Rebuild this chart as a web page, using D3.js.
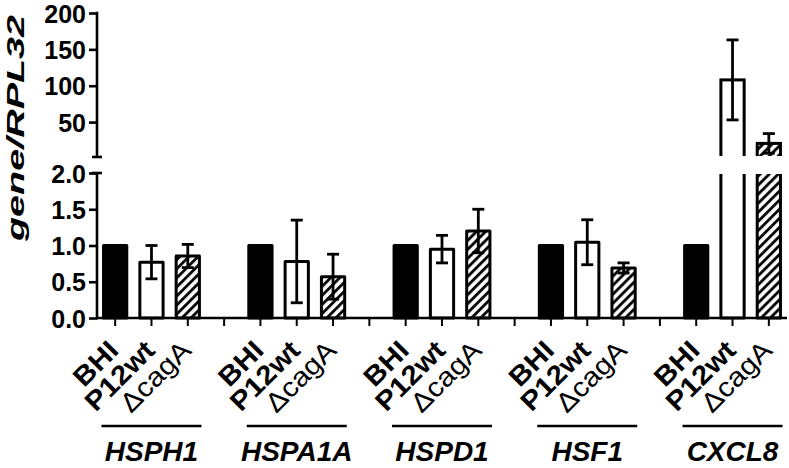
<!DOCTYPE html>
<html>
<head>
<meta charset="utf-8">
<script src="https://cdn.jsdelivr.net/npm/d3@7"></script>
<style>
  html, body { margin: 0; padding: 0; background: #fff; }
  svg { display: block; }
  text { font-family: "Liberation Sans", Arial, Helvetica, sans-serif; fill: #000; }
</style>
</head>
<body>
<svg id="chart" width="789" height="468"></svg>
<script>
// ---------------- data ----------------
const genes = ["HSPH1", "HSPA1A", "HSPD1", "HSF1", "CXCL8"];
const conditions = ["BHI", "P12wt", "ΔcagA"];
const bhiValues = [1, 1, 1, 1, 1];
const p12Values = [0.77, 0.78, 0.95, 1.045, 108];
const p12Errors = [0.23, 0.57, 0.19, 0.31, 55];
const cagValues = [0.855, 0.57, 1.2, 0.69, 20.7];
const cagErrors = [0.16, 0.31, 0.30, 0.07, 13.5];
const lowerTicks = [0, 0.5, 1.0, 1.5, 2.0];
const upperTicks = [50, 100, 150, 200];
const yTitleGene = "gene/";
const yTitleRef = "RPL32";

// ---------------- layout ----------------
const svg = d3.select("#chart");
const W = 789, H = 468;
const axisX = 97, axisRight = 787;
const baseY = 318;

const slots = [];
genes.forEach((g, gi) => {
  conditions.forEach(c => slots.push(g + "|" + c));
  if (gi < genes.length - 1) slots.push(g + "|gap");
});

const x = d3.scaleBand().domain(slots).range([axisX, axisRight])
  .paddingInner(0.36).paddingOuter(0.18);
const xc = s => x(s) + x.bandwidth() / 2;

const yLow = d3.scaleLinear().domain([0, 2]).range([baseY, 173]);
const yUp = d3.scaleLinear().domain([2, 200]).range([157, 13]);

// records
const bars = [];
genes.forEach((g, i) => {
  bars.push({gene: g, cond: "BHI", v: bhiValues[i], e: 0, style: "black"});
  bars.push({gene: g, cond: "P12wt", v: p12Values[i], e: p12Errors[i], style: "white"});
  bars.push({gene: g, cond: "ΔcagA", v: cagValues[i], e: cagErrors[i], style: "hatch"});
});

// defs
const defs = svg.append("defs");
const pat = defs.append("pattern").attr("id", "hatch")
  .attr("patternUnits", "userSpaceOnUse")
  .attr("width", 6.4).attr("height", 20)
  .attr("patternTransform", "rotate(45)");
pat.append("rect").attr("width", 6.4).attr("height", 20).attr("fill", "#fff");
pat.append("line").attr("x1", 1.5).attr("x2", 1.5).attr("y1", 0).attr("y2", 20)
  .attr("stroke", "#000").attr("stroke-width", 2.8);

defs.append("clipPath").attr("id", "clipLow")
  .append("rect").attr("x", 0).attr("y", 174).attr("width", W).attr("height", H - 174);
defs.append("clipPath").attr("id", "clipUp")
  .append("rect").attr("x", 0).attr("y", 0).attr("width", W).attr("height", 156);

const fillOf = d => d.style === "black" ? "#000" : d.style === "white" ? "#fff" : "url(#hatch)";
const bw = x.bandwidth();

// lower segment bars
const gLow = svg.append("g").attr("clip-path", "url(#clipLow)");
gLow.selectAll("rect").data(bars).join("rect")
  .attr("x", d => x(d.gene + "|" + d.cond))
  .attr("width", bw)
  .attr("y", d => yLow(Math.min(d.v, 2.3)))
  .attr("height", d => baseY - yLow(Math.min(d.v, 2.3)))
  .attr("fill", fillOf)
  .attr("stroke", "#000").attr("stroke-width", 3)
  .attr("stroke-linejoin", "round");

// upper segment bars
const bigBars = bars.filter(d => d.v > 2);
const gUp = svg.append("g").attr("clip-path", "url(#clipUp)");
gUp.selectAll("rect").data(bigBars).join("rect")
  .attr("x", d => x(d.gene + "|" + d.cond))
  .attr("width", bw)
  .attr("y", d => yUp(d.v))
  .attr("height", d => yUp(0) - yUp(d.v))
  .attr("fill", fillOf)
  .attr("stroke", "#000").attr("stroke-width", 3);

// error bars
const capW = 12;
const errBars = bars.filter(d => d.e > 0);
function errG(g, data, scale) {
  const eg = g.selectAll("g.err").data(data).join("g").attr("class", "err")
    .attr("stroke", "#000").attr("stroke-width", 2.8);
  eg.append("line")
    .attr("x1", d => xc(d.gene + "|" + d.cond)).attr("x2", d => xc(d.gene + "|" + d.cond))
    .attr("y1", d => scale(d.v - d.e)).attr("y2", d => scale(d.v + d.e));
  eg.append("line")
    .attr("x1", d => xc(d.gene + "|" + d.cond) - capW / 2).attr("x2", d => xc(d.gene + "|" + d.cond) + capW / 2)
    .attr("y1", d => scale(d.v + d.e)).attr("y2", d => scale(d.v + d.e));
  eg.append("line")
    .attr("x1", d => xc(d.gene + "|" + d.cond) - capW / 2).attr("x2", d => xc(d.gene + "|" + d.cond) + capW / 2)
    .attr("y1", d => scale(d.v - d.e)).attr("y2", d => scale(d.v - d.e));
}
errG(gLow.append("g"), errBars.filter(d => d.v <= 2), yLow);
errG(gUp.append("g"), errBars.filter(d => d.v > 2), yUp);

// y axes
const fontTick = 25;
const axLow = svg.append("g").attr("transform", `translate(${axisX},0)`)
  .call(d3.axisLeft(yLow).tickValues(lowerTicks).tickFormat(d3.format(".1f")).tickSize(8).tickSizeOuter(0).tickPadding(3));
const axUp = svg.append("g").attr("transform", `translate(${axisX},0)`)
  .call(d3.axisLeft(yUp).tickValues(upperTicks).tickFormat(d3.format("d")).tickSize(8).tickSizeOuter(0).tickPadding(3));
[axLow, axUp].forEach(a => {
  a.select(".domain").remove();
  a.selectAll(".tick line").attr("stroke", "#000").attr("stroke-width", 2.6);
  a.selectAll(".tick text").attr("font-size", fontTick).attr("font-weight", "bold")
    .attr("font-family", "Liberation Sans, Arial, sans-serif").attr("fill", "#000")
    .attr("dy", "0.36em");
});
// axis spines with break caps
svg.append("line").attr("x1", axisX).attr("x2", axisX).attr("y1", yLow(0) + 1.3).attr("y2", yLow(2))
  .attr("stroke", "#000").attr("stroke-width", 2.6);
svg.append("line").attr("x1", axisX).attr("x2", axisX).attr("y1", yUp(2)).attr("y2", yUp(200) - 1.3)
  .attr("stroke", "#000").attr("stroke-width", 2.6);
[yLow(2), yUp(2)].forEach(yy => {
  svg.append("line").attr("x1", axisX - 5).attr("x2", axisX + 5).attr("y1", yy).attr("y2", yy)
    .attr("stroke", "#000").attr("stroke-width", 2.6);
});

// x axis
svg.append("line").attr("x1", axisX).attr("x2", axisRight).attr("y1", baseY).attr("y2", baseY)
  .attr("stroke", "#000").attr("stroke-width", 2.6);
svg.append("g").selectAll("line").data(slots).join("line")
  .attr("x1", d => xc(d)).attr("x2", d => xc(d))
  .attr("y1", baseY).attr("y2", baseY + 8)
  .attr("stroke", "#000").attr("stroke-width", 2);

// x labels
const labelFont = 27;
const xl = svg.append("g");
bars.forEach(d => {
  const cx = xc(d.gene + "|" + d.cond) + 5;
  const cy = 352;
  const t = xl.append("text")
    .attr("transform", `translate(${cx},${cy}) rotate(-45)`)
    .attr("text-anchor", "end")
    .attr("font-size", labelFont);
  if (d.cond === "ΔcagA") {
    t.text(d.cond);
  } else {
    t.attr("font-weight", "bold").text(d.cond);
  }
  const L = t.node().getComputedTextLength();
  t.attr("textLength", L * 1.1).attr("lengthAdjust", "spacingAndGlyphs");
});

// group underline and gene labels
genes.forEach(g => {
  const c = xc(g + "|P12wt");
  svg.append("line").attr("x1", c - 50).attr("x2", c + 50).attr("y1", 426).attr("y2", 426)
    .attr("stroke", "#000").attr("stroke-width", 2.6);
  svg.append("text").attr("x", c).attr("y", 461)
    .attr("text-anchor", "middle").attr("font-size", 28)
    .attr("font-weight", "bold").attr("font-style", "italic").text(g);
});

// y title
const yt = svg.append("text")
  .attr("transform", `translate(24,128) rotate(-90)`)
  .attr("text-anchor", "middle")
  .attr("font-size", 23).attr("font-weight", "bold").attr("font-style", "italic");
yt.append("tspan").text(yTitleGene);
yt.append("tspan").text(yTitleRef);
yt.attr("textLength", 226).attr("lengthAdjust", "spacingAndGlyphs");
</script>
</body>
</html>
